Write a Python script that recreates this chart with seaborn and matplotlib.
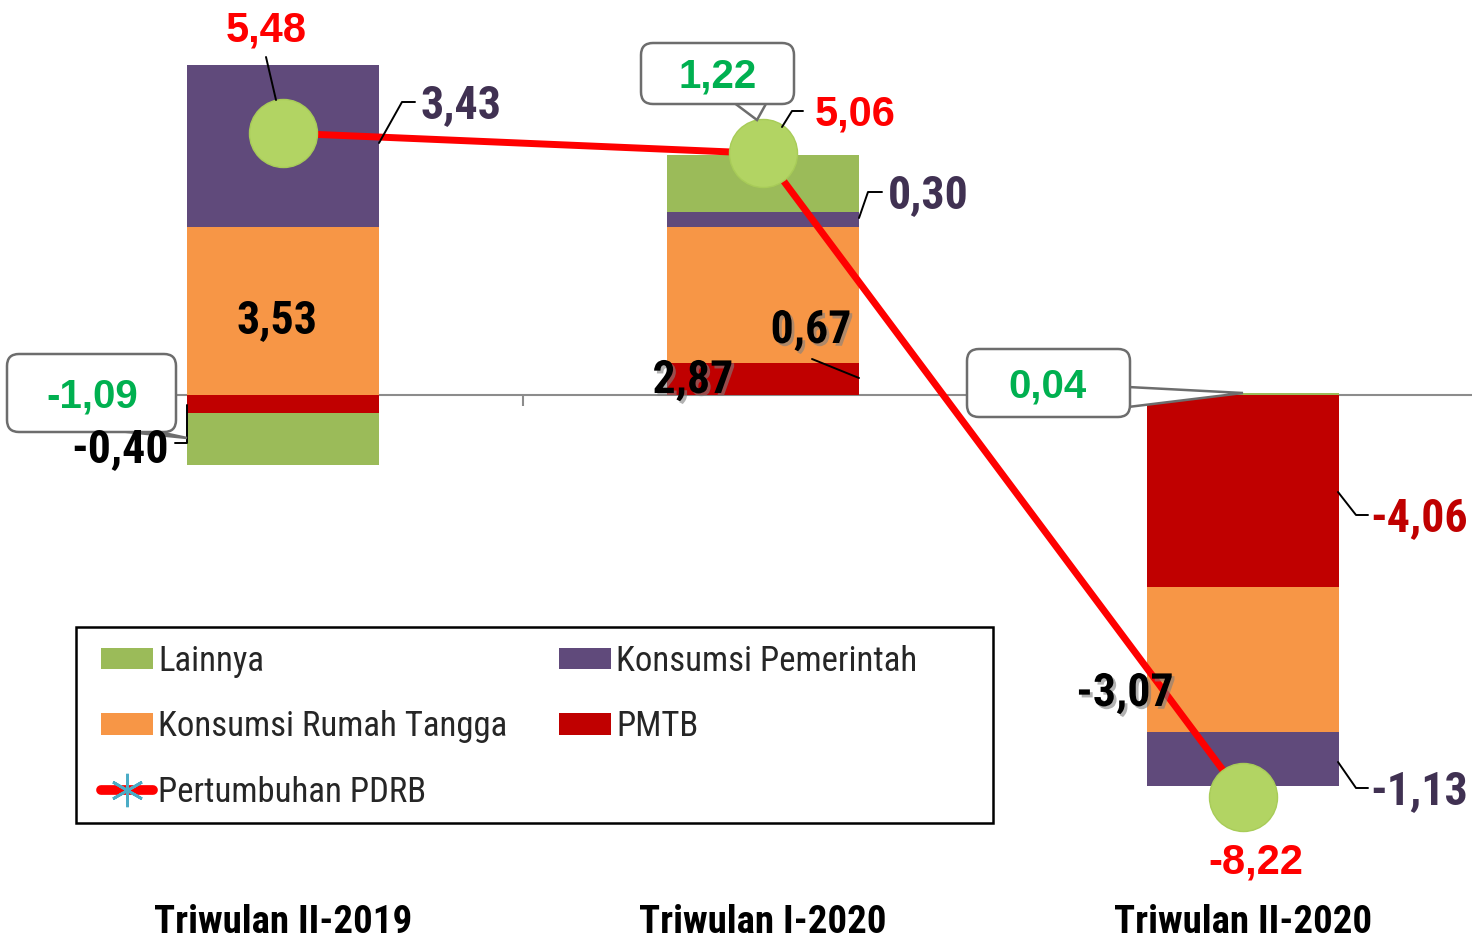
"""
Kontribusi komponen pengeluaran terhadap pertumbuhan PDRB (stacked bars + growth line).
"""
import numpy as np
import pandas as pd
import matplotlib
matplotlib.use("Agg")
import matplotlib.pyplot as plt
import matplotlib.transforms as mtransforms
import matplotlib.patheffects as pe
from matplotlib import font_manager
from matplotlib.patches import Patch, Polygon, FancyBboxPatch, Rectangle
from matplotlib.lines import Line2D
import seaborn as sns

# ---------------------------------------------------------------------------
# Data
# ---------------------------------------------------------------------------
periods      = ["Triwulan II-2019", "Triwulan I-2020", "Triwulan II-2020"]
lainnya      = [-1.09, 1.22, 0.04]
pemerintah   = [3.43, 0.30, -1.13]
rumah_tangga = [3.53, 2.87, -3.07]
pmtb         = [-0.40, 0.67, -4.06]
pdrb         = [5.48, 5.06, -8.22]

# stacking order, from the zero line outward
stack_order = [("PMTB", pmtb),
               ("Konsumsi Rumah Tangga", rumah_tangga),
               ("Konsumsi Pemerintah", pemerintah),
               ("Lainnya", lainnya)]
colours = {"Lainnya": "#9BBB59", "Konsumsi Pemerintah": "#604A7B",
           "Konsumsi Rumah Tangga": "#F79646", "PMTB": "#C00000"}

RED, DRED, GREEN, PURPLE = "#FF0000", "#C00000", "#00B050", "#403152"


def fmt(v):
    return f"{v:.2f}".replace(".", ",")


# ---------------------------------------------------------------------------
# Figure setup
# ---------------------------------------------------------------------------
W, H = 1472, 943
sns.set_theme(style="white")
_names = {f.name for f in font_manager.fontManager.ttflist}
NARROW = next((n for n in ["Roboto Condensed", "Archivo Narrow", "PT Sans Narrow",
                           "Liberation Sans"] if n in _names))
plt.rcParams["font.family"] = ["Liberation Sans", "DejaVu Sans"]

fig = plt.figure(figsize=(W / 100, H / 100), dpi=100)
px = mtransforms.Affine2D().scale(1, -1).translate(0, H)   # pixel coords, origin top-left

ZERO, SCALE = 394.5, 47.4
XLIM = (-0.5, -0.5 + (W - 43) / 480)
ax = fig.add_axes([43 / W, 0, 1 - 43 / W, 1])

x = np.arange(len(periods))
pos_base = np.zeros(len(x))
neg_base = np.zeros(len(x))
for name, vals in stack_order:
    v = np.array(vals)
    bottom = np.where(v >= 0, pos_base, neg_base)
    ax.bar(x, v, bottom=bottom, width=0.4, color=colours[name], linewidth=0, zorder=3)
    pos_base += np.where(v >= 0, v, 0)
    neg_base += np.where(v < 0, v, 0)

for s in ax.spines.values():
    s.set_visible(False)
ax.spines["bottom"].set_visible(True)
ax.spines["bottom"].set_position(("data", 0))
ax.spines["bottom"].set_color("#8C8C8C")
ax.spines["bottom"].set_linewidth(1.5)
ax.spines["bottom"].set_zorder(2)
ax.set_xticks([-0.5, 0.5, 1.5, 2.5], labels=[""] * 4)
ax.tick_params(axis="x", bottom=True, length=8, width=1.5, color="#8C8C8C", direction="out")
ax.set_yticks([])

# growth line on its own (hidden) scale
ax2 = ax.twinx()
line_df = pd.DataFrame({"x": x, "pdrb": pdrb})
sns.lineplot(data=line_df, x="x", y="pdrb", ax=ax2, color=RED, linewidth=5, zorder=4)
sns.scatterplot(data=line_df, x="x", y="pdrb", ax=ax2, s=2400, color="#B2D463",
                edgecolor="#A8CC58", linewidth=1, zorder=5)
ax2.set_axis_off()

Z2, S2 = 398.6, 48.47
ax.set_ylim(-(H - ZERO) / SCALE, ZERO / SCALE)
ax2.set_ylim(-(H - Z2) / S2, Z2 / S2)
ax.set_xlim(*XLIM)
ax2.set_xlim(*XLIM)

# category labels
cat_tr = mtransforms.blended_transform_factory(ax.transData, px)
for i, p in enumerate(periods):
    ax.text(i, 933, p, transform=cat_tr, ha="center", va="baseline",
            fontsize=28, fontweight="bold", family=[NARROW, "DejaVu Sans"], color="black")

# ---------------------------------------------------------------------------
# Value labels, leaders and callouts
# ---------------------------------------------------------------------------
def label(xp, yp, v, colour, size=33, narrow=True, shadow=False):
    t = fig.text(xp, yp, fmt(v), transform=px, ha="center", va="baseline",
                 color=colour, fontsize=size, fontweight="bold", zorder=6,
                 family=[NARROW if narrow else "Liberation Sans", "DejaVu Sans"])
    if shadow:
        t.set_path_effects([pe.withSimplePatchShadow(offset=(2, -2),
                                                     shadow_rgbFace="#7F7F7F", alpha=0.6)])


def leader(pts):
    xs, ys = zip(*pts)
    fig.add_artist(Line2D(xs, ys, transform=px, color="black", lw=1.4, zorder=4))


def callout(x0, y0, x1, y1, tail):
    fig.add_artist(Polygon(tail, closed=True, transform=px, fc="white",
                           ec="#6D6D6D", lw=1.8, zorder=4.5))
    fig.add_artist(FancyBboxPatch((x0, y0), x1 - x0, y1 - y0,
                                  boxstyle="round,pad=0,rounding_size=12", transform=px,
                                  fc="white", ec="#6D6D6D", lw=1.8, zorder=4.6))


# Triwulan II-2019
label(266, 41, pdrb[0], RED, 30, narrow=False)
leader([(266, 57), (276, 100)])
label(461, 118, pemerintah[0], PURPLE)
leader([(379, 143), (402, 102), (415, 102)])
label(277, 333, rumah_tangga[0], "black")
label(120, 462, pmtb[0], "black")
leader([(175, 443), (187, 443), (187, 405)])
callout(7, 354, 176, 432, [(108, 430), (150, 430), (187, 438)])
label(92, 407, lainnya[0], GREEN, 29, narrow=False)

# Triwulan I-2020
callout(641, 43, 794, 104, [(733, 102), (767, 102), (757, 120)])
label(718, 87, lainnya[1], GREEN, 29, narrow=False)
label(855, 125, pdrb[1], RED, 30, narrow=False)
leader([(782, 127), (792, 111), (803, 111)])
label(928, 208, pemerintah[1], PURPLE)
leader([(859, 218), (868, 192), (882, 192)])
label(811, 343, pmtb[1], "black", shadow=True)
leader([(812, 359), (859, 378)])
label(693, 393, rumah_tangga[1], "black", shadow=True)

# Triwulan II-2020
callout(967, 349, 1130, 417, [(1128, 387), (1128, 407), (1243, 393)])
label(1048, 397, lainnya[2], GREEN, 29, narrow=False)
label(1419, 531, pmtb[2], DRED)
leader([(1338, 492), (1356, 515), (1368, 515)])
label(1125, 706, rumah_tangga[2], "black", shadow=True)
label(1419, 804, pemerintah[2], PURPLE)
leader([(1338, 762), (1356, 788), (1368, 788)])
label(1256, 874, pdrb[2], RED, 30, narrow=False)

# ---------------------------------------------------------------------------
# Legend
# ---------------------------------------------------------------------------
fs_leg = 25
fspx = fs_leg * 100 / 72
common = dict(loc="upper left", frameon=False, borderpad=0, borderaxespad=0,
              prop=dict(family=NARROW, size=fs_leg),
              handlelength=52 / fspx, handleheight=20 / fspx,
              handletextpad=5 / fspx, labelspacing=0.93)
growth_handle = Line2D([], [], color=RED, lw=7, solid_capstyle="round",
                       marker=(6, 2, 0), markersize=24,
                       markeredgecolor="#4BACC6", markeredgewidth=2)
left_items = [Patch(facecolor=colours["Lainnya"], edgecolor="none"),
              Patch(facecolor=colours["Konsumsi Rumah Tangga"], edgecolor="none"),
              growth_handle]
right_items = [Patch(facecolor=colours["Konsumsi Pemerintah"], edgecolor="none"),
               Patch(facecolor=colours["PMTB"], edgecolor="none")]
fig.legend(left_items, ["Lainnya", "Konsumsi Rumah Tangga", "Pertumbuhan PDRB"],
           bbox_to_anchor=(101 / W, 1 - 645 / H), **common)
fig.legend(right_items, ["Konsumsi Pemerintah", "PMTB"],
           bbox_to_anchor=(559 / W, 1 - 645 / H), **common)
fig.add_artist(Rectangle((76, 627), 917, 196, transform=px, fill=False,
                         ec="black", lw=1.8, zorder=4))

fig.savefig("out.png", dpi=100)
